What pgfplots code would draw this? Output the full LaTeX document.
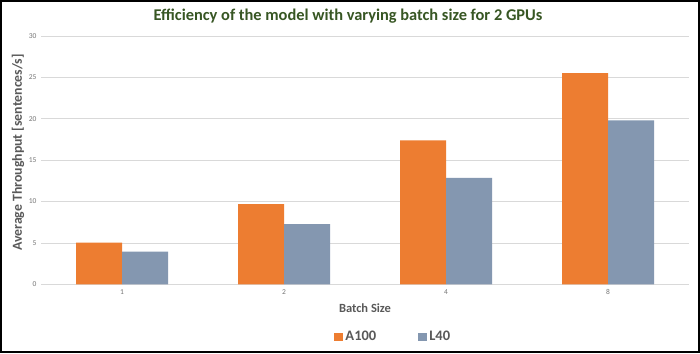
\documentclass[border=0pt]{standalone}
\usepackage{pgfplots}
\pgfplotsset{compat=1.18}
\usepackage{fontspec}
\setmainfont{Carlito}
\definecolor{titlegreen}{RGB}{55,86,35}
\definecolor{labgray}{RGB}{89,89,89}
\definecolor{tickgray}{RGB}{118,118,118}
\definecolor{gridgray}{RGB}{217,217,217}
\definecolor{aorange}{RGB}{237,125,49}
\definecolor{lblue}{RGB}{132,151,176}
\begin{document}
\begin{tikzpicture}
\useasboundingbox (0,0) rectangle (700pt,353pt);
\fill[white] (0,0) rectangle (700pt,353pt);
\begin{axis}[
  at={(41pt,68.7pt)}, anchor=south west,
  scale only axis, width=648pt, height=248.3pt,
  xmin=-0.5, xmax=3.5, ymin=0, ymax=30,
  ytick={0,5,...,30},
  xtick={0,1,2,3}, xticklabels={1,2,4,8},
  /pgf/number format/assume math mode=true,
  ymajorgrids, grid style={gridgray, line width=0.8pt},
  axis line style={draw=none},
  major tick length=0pt,
  yticklabel style={font=\fontsize{7.5}{8}\selectfont, text=tickgray, xshift=-1pt},
  xticklabel style={font=\fontsize{7.5}{8}\selectfont, text=tickgray, yshift=-2pt},
  legend style={at={(0.4526,-0.2122)}, anchor=west, draw=none, fill=none, inner sep=0pt,
    font=\fontsize{14.5}{16}\selectfont\bfseries, text=labgray,
    legend columns=2, /tikz/every even column/.append style={column sep=40pt}},
  legend image code/.code={\fill[#1] (0pt,-4pt) rectangle (9pt,4pt);},
]
\addplot[ybar, bar width=46pt, bar shift=-23pt, fill=aorange, draw=none]
  coordinates {(0,5.05) (1,9.7) (2,17.4) (3,25.5)};
\addlegendentry{A100}
\addplot[ybar, bar width=46pt, bar shift=23pt, fill=lblue, draw=none]
  coordinates {(0,3.95) (1,7.28) (2,12.85) (3,19.8)};
\addlegendentry{L40}
\end{axis}
\node[font=\fontsize{16.4}{18}\selectfont\bfseries, text=titlegreen, anchor=base] at (348pt,332.3pt) {Efficiency of the model with varying batch size for 2 GPUs};
\node[font=\fontsize{13.8}{16}\selectfont\bfseries, text=labgray, rotate=90] at (18pt,200.5pt) {Average Throughput [sentences/s]};
\node[font=\fontsize{12.5}{14}\selectfont\bfseries, text=labgray, anchor=base] at (365pt,40.7pt) {Batch Size};
\draw[line width=2pt, black] (1pt,1pt) rectangle (699pt,352pt);
\end{tikzpicture}
\end{document}
